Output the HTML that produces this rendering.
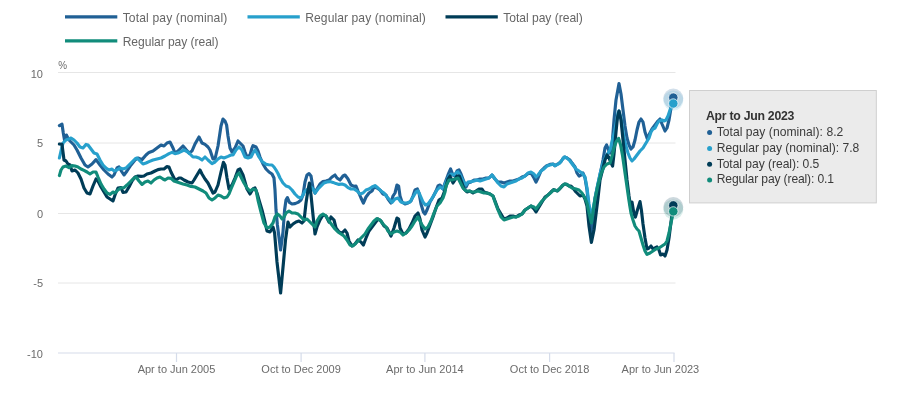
<!DOCTYPE html>
<html lang="en"><head><meta charset="utf-8"><title>Average weekly earnings annual growth rates</title>
<style>html,body{margin:0;padding:0;background:#fff;}body{width:900px;height:405px;overflow:hidden;}svg{display:block;}text{font-family:"Liberation Sans", Arial, sans-serif;}.ax{font-size:11px;fill:#6b6b6b;}.lg{font-size:12.1px;fill:#666666;}.tt{font-size:12.1px;fill:#3a3a3a;}.tth{font-size:12.3px;font-weight:bold;fill:#333;}.ln{fill:none;stroke-width:3.15;stroke-linejoin:round;stroke-linecap:round;}</style></head><body>
<svg width="900" height="405" viewBox="0 0 900 405">
<defs><filter id="idf" x="0" y="0" width="900" height="405" filterUnits="userSpaceOnUse" color-interpolation-filters="sRGB"><feGaussianBlur stdDeviation="0.38"/></filter></defs>
<rect width="900" height="405" fill="#ffffff"/>
<g filter="url(#idf)">
<line x1="58" x2="675.5" y1="72.5" y2="72.5" stroke="#e6e6e6" stroke-width="1"/>
<line x1="58" x2="675.5" y1="143" y2="143" stroke="#e6e6e6" stroke-width="1"/>
<line x1="58" x2="675.5" y1="213.5" y2="213.5" stroke="#e6e6e6" stroke-width="1"/>
<line x1="58" x2="675.5" y1="283" y2="283" stroke="#e6e6e6" stroke-width="1"/>
<line x1="58" x2="674.6" y1="353" y2="353" stroke="#d5dcea" stroke-width="1.1"/>
<line x1="176.5" x2="176.5" y1="353" y2="362" stroke="#d5dcea" stroke-width="1.2"/>
<text class="ax" x="176.5" y="372.6" text-anchor="middle">Apr to Jun 2005</text>
<line x1="301.1" x2="301.1" y1="353" y2="362" stroke="#d5dcea" stroke-width="1.2"/>
<text class="ax" x="301.1" y="372.6" text-anchor="middle">Oct to Dec 2009</text>
<line x1="424.9" x2="424.9" y1="353" y2="362" stroke="#d5dcea" stroke-width="1.2"/>
<text class="ax" x="424.9" y="372.6" text-anchor="middle">Apr to Jun 2014</text>
<line x1="549.6" x2="549.6" y1="353" y2="362" stroke="#d5dcea" stroke-width="1.2"/>
<text class="ax" x="549.6" y="372.6" text-anchor="middle">Oct to Dec 2018</text>
<line x1="674" x2="674" y1="353" y2="362" stroke="#d5dcea" stroke-width="1.2"/>
<text class="ax" x="660.4" y="372.6" text-anchor="middle">Apr to Jun 2023</text>
<text class="ax" x="43" y="77.8" text-anchor="end">10</text>
<text class="ax" x="43" y="147.1" text-anchor="end">5</text>
<text class="ax" x="43" y="217.9" text-anchor="end">0</text>
<text class="ax" x="43" y="287.4" text-anchor="end">-5</text>
<text class="ax" x="43" y="357.7" text-anchor="end">-10</text>
<text class="ax" x="58.2" y="69.4" textLength="8.8" lengthAdjust="spacingAndGlyphs">%</text>
<line x1="65" x2="117.3" y1="16.8" y2="16.8" stroke="#206095" stroke-width="3.2" stroke-linecap="butt"/>
<text class="lg" x="122.7" y="21.9" textLength="104.6" lengthAdjust="spacing">Total pay (nominal)</text>
<line x1="247.5" x2="299.8" y1="16.8" y2="16.8" stroke="#27a0cc" stroke-width="3.2" stroke-linecap="butt"/>
<text class="lg" x="305.2" y="21.9" textLength="120.6" lengthAdjust="spacing">Regular pay (nominal)</text>
<line x1="445.5" x2="497.8" y1="16.8" y2="16.8" stroke="#003c57" stroke-width="3.2" stroke-linecap="butt"/>
<text class="lg" x="503.2" y="21.9" textLength="79.6" lengthAdjust="spacing">Total pay (real)</text>
<line x1="65" x2="117.3" y1="40.8" y2="40.8" stroke="#118c7b" stroke-width="3.2" stroke-linecap="butt"/>
<text class="lg" x="122.7" y="45.9" textLength="95.8" lengthAdjust="spacing">Regular pay (real)</text>
<polyline class="ln" stroke="#206095" points="59.4,125.6 62.0,124.2 63.3,133.0 64.6,140.6 66.4,135.0 68.2,138.6 70.0,141.0 74.0,145.0 77.0,150.0 81.0,158.0 85.0,165.0 88.0,167.0 92.0,164.0 96.0,159.6 100.0,165.0 104.0,170.0 108.0,174.0 112.0,177.0 114.0,175.0 117.0,168.0 119.0,167.0 122.0,172.0 124.0,175.0 127.0,171.0 131.0,165.0 135.0,160.0 138.0,158.0 142.0,159.6 146.0,155.0 149.0,152.4 153.0,151.0 157.0,148.0 161.0,145.0 164.0,146.0 167.0,143.0 170.0,142.0 173.0,148.0 175.0,153.0 178.0,151.0 181.0,148.0 183.0,146.0 186.0,149.6 189.0,153.0 192.0,151.0 195.0,144.0 199.0,137.0 202.0,143.0 205.0,144.4 208.0,147.0 210.0,150.0 213.0,159.0 215.0,159.0 218.0,146.0 221.0,126.0 223.0,119.0 225.0,121.0 226.6,125.0 228.0,136.0 230.0,148.0 232.0,152.0 235.0,148.0 238.0,141.0 240.0,143.0 243.0,146.0 245.0,152.0 247.0,157.0 250.0,155.0 252.0,148.0 253.0,145.6 256.0,147.0 258.0,151.0 260.0,157.0 263.0,164.0 266.0,169.0 269.0,172.0 272.0,174.0 274.0,178.0 275.0,190.0 276.0,210.0 277.4,225.0 280.6,250.0 283.0,232.0 284.6,210.0 286.0,200.0 287.4,197.6 289.4,202.4 292.0,204.0 295.0,203.6 298.0,202.4 301.0,200.0 303.0,195.0 305.0,182.0 307.0,175.0 309.0,173.6 311.0,176.0 313.0,188.0 315.0,193.0 317.0,189.0 320.0,184.0 323.0,181.6 326.0,181.0 329.0,180.0 332.0,177.0 335.0,175.0 337.0,178.0 340.0,180.0 343.0,176.0 345.0,175.0 348.0,179.0 351.0,185.0 354.0,186.4 356.0,186.0 358.0,191.0 361.0,198.0 363.4,203.0 366.0,197.0 369.0,193.0 372.0,191.0 374.0,187.0 377.0,188.0 380.0,190.0 383.0,194.0 386.0,195.0 388.0,199.0 391.0,203.0 393.0,196.0 395.0,193.0 397.0,185.0 398.6,186.0 400.0,196.0 402.0,202.0 405.0,204.0 408.0,203.0 411.0,201.0 413.0,196.0 415.0,190.0 417.4,189.0 419.0,193.0 421.0,204.0 423.4,212.0 425.0,214.0 427.0,210.0 430.0,202.0 433.0,197.0 436.0,191.0 438.0,186.0 440.0,185.0 443.0,189.0 445.0,183.0 448.0,175.0 450.6,169.0 453.0,175.0 455.0,176.0 457.0,171.0 459.0,170.0 461.0,174.0 464.0,182.0 466.0,187.0 468.0,183.0 471.0,182.0 474.0,180.0 477.0,180.0 480.0,179.0 483.0,179.0 486.0,178.0 489.0,178.0 492.0,175.0 495.0,179.0 498.0,182.0 501.0,182.0 504.0,183.0 507.0,182.0 510.0,181.0 513.0,181.0 516.0,180.0 519.0,179.0 522.0,177.0 525.0,176.0 528.0,173.6 531.0,173.0 534.0,178.0 536.0,182.0 538.0,178.0 541.0,171.0 544.0,168.0 547.0,165.6 550.0,164.4 553.0,164.0 555.0,165.8 557.0,164.4 559.0,163.4 561.0,161.5 563.0,158.5 564.6,157.0 567.0,158.0 570.0,160.0 572.0,163.0 575.0,167.0 577.0,173.0 579.0,176.0 581.0,175.0 583.0,173.0 585.0,178.0 587.0,190.0 589.0,210.0 591.4,232.0 593.0,218.0 595.0,198.0 598.0,184.0 601.0,170.0 603.0,160.0 605.0,148.0 606.6,145.0 608.6,150.0 610.0,153.0 612.0,146.0 614.0,120.0 616.0,100.0 619.0,83.6 621.0,94.0 623.0,110.0 625.0,126.0 627.0,138.0 629.0,145.0 631.0,149.0 633.0,147.0 635.0,140.0 637.0,130.0 639.0,122.0 641.0,119.0 643.0,122.0 645.0,132.0 647.4,139.0 649.4,134.0 652.0,129.0 655.0,125.0 658.0,121.0 660.0,119.0 662.0,124.0 665.0,131.0 667.0,128.0 669.0,120.0 671.0,108.0 673.4,97.6"/>
<polyline class="ln" stroke="#27a0cc" points="59.4,158.0 61.0,151.0 63.0,143.0 66.0,140.0 69.0,139.0 71.0,138.0 74.0,140.0 77.0,143.0 80.0,147.0 83.0,148.0 86.0,144.4 88.0,145.0 91.0,149.0 94.0,153.0 97.0,154.0 100.0,160.0 103.0,165.0 106.0,168.0 109.0,170.0 112.0,169.0 114.0,171.0 117.0,170.0 120.0,168.0 123.0,169.0 126.0,168.0 129.0,165.0 132.0,162.0 135.0,159.0 137.0,158.0 140.0,161.0 143.0,164.0 146.0,163.0 149.0,161.6 153.0,160.0 157.0,159.0 161.0,158.0 165.0,156.0 169.0,153.6 172.0,152.4 175.0,153.6 178.0,153.0 181.0,151.6 184.0,150.0 187.0,151.6 190.0,154.0 193.0,157.0 196.0,157.0 199.0,158.0 202.0,160.0 205.0,157.0 208.0,160.0 212.0,163.6 215.0,162.0 218.0,159.0 221.0,157.0 224.0,158.0 228.0,156.4 231.0,155.0 233.0,155.0 236.0,150.0 239.0,147.0 242.0,150.0 245.0,157.0 248.0,158.0 251.0,157.0 253.0,153.0 255.0,150.0 257.0,153.0 259.0,157.0 262.0,161.5 264.3,163.0 266.0,164.3 268.5,164.8 272.0,165.0 274.0,167.0 276.0,170.0 278.0,173.5 280.0,178.0 283.0,183.0 286.0,186.0 289.0,187.0 292.0,190.0 295.0,194.0 298.0,197.0 301.0,198.0 303.0,195.0 305.0,191.0 308.0,189.0 311.0,187.0 313.0,189.0 315.0,193.0 318.0,189.0 321.0,186.0 324.0,183.0 327.0,182.0 330.0,181.6 333.0,182.4 336.0,183.6 339.0,184.4 342.0,184.0 345.0,185.0 348.0,187.6 351.0,189.0 354.0,189.0 357.0,191.0 360.0,194.0 363.0,193.0 366.0,190.0 369.0,189.0 372.0,187.0 375.0,185.6 378.0,188.0 381.0,191.0 384.0,193.0 387.0,197.0 390.0,200.0 392.0,202.4 395.0,199.0 398.0,198.0 401.0,202.0 404.0,203.0 407.0,203.0 410.0,202.0 413.0,197.0 416.0,192.0 418.0,191.0 420.0,195.0 423.0,202.0 425.4,205.0 428.0,204.0 431.0,200.0 434.0,195.0 437.0,190.0 440.0,187.0 443.0,189.0 446.0,182.0 449.0,176.0 451.0,174.0 454.0,175.0 456.0,173.0 458.0,172.0 460.0,175.0 463.0,181.0 466.0,185.0 468.0,182.0 471.0,181.6 474.0,181.0 477.0,180.0 480.0,181.0 483.0,180.0 486.0,179.0 489.0,178.0 492.0,175.0 495.0,179.0 498.0,183.0 501.0,186.0 504.0,187.0 507.0,184.0 510.0,183.0 513.0,182.0 516.0,181.0 519.0,179.0 522.0,178.0 525.0,176.0 528.0,173.0 531.0,172.0 534.0,174.0 536.0,177.0 538.0,175.0 541.0,171.0 544.0,169.0 547.0,166.0 550.0,165.0 553.0,164.2 555.0,165.6 557.0,164.6 559.0,163.6 561.0,161.5 563.0,158.5 564.6,157.0 567.0,158.0 570.0,161.0 573.0,165.0 576.0,169.0 579.0,171.0 582.0,173.0 585.0,177.0 587.0,188.0 589.0,204.0 591.4,218.0 594.0,204.0 597.0,188.0 600.0,174.0 603.0,163.0 606.0,156.0 608.0,153.0 610.0,150.0 612.0,142.0 614.0,134.0 616.0,124.0 618.0,113.0 619.0,111.0 621.0,118.0 624.0,138.0 626.0,146.0 628.0,153.0 630.0,158.0 632.0,161.0 634.0,159.0 637.0,155.0 640.0,151.0 643.0,148.0 646.0,143.0 649.0,138.0 651.0,132.0 653.0,129.0 655.0,128.0 657.0,124.0 659.0,121.0 662.0,120.0 664.0,121.0 666.0,120.0 668.0,116.0 670.0,110.0 673.4,103.5"/>
<polyline class="ln" stroke="#003c57" points="59.4,144.0 62.0,144.4 64.0,160.0 66.0,161.0 68.0,164.0 70.0,165.0 72.0,171.0 75.0,170.0 78.0,173.0 81.0,179.0 84.0,188.0 87.0,193.0 90.0,194.0 93.0,186.0 96.0,179.0 98.0,181.0 101.0,187.0 104.0,192.0 107.0,197.0 110.0,199.0 113.0,201.0 115.0,195.0 118.0,188.0 121.0,187.6 123.0,192.4 126.0,192.0 129.0,187.0 132.0,181.0 135.0,177.0 138.0,176.0 141.0,176.4 144.0,176.0 147.0,174.0 151.0,173.0 155.0,171.0 158.0,169.6 161.0,169.0 164.0,169.0 167.0,166.6 169.0,167.0 171.0,172.0 174.0,178.0 176.0,180.0 179.0,178.0 181.0,178.0 184.0,180.0 188.0,182.0 192.0,183.0 194.0,180.0 197.0,175.0 200.0,170.0 202.0,174.0 205.0,179.0 208.0,183.0 211.0,189.0 213.0,193.0 215.0,192.0 218.0,185.0 221.0,172.0 223.4,162.4 225.0,165.0 227.0,178.0 229.0,189.0 232.0,185.0 235.0,178.0 238.0,170.0 240.0,169.0 243.0,175.0 245.0,182.0 247.0,189.0 250.0,194.0 253.0,189.0 255.0,188.0 257.0,193.0 259.0,200.0 262.0,210.0 265.0,222.0 267.0,231.0 270.0,232.0 273.0,227.0 274.6,233.0 277.0,262.0 280.6,293.0 283.5,262.0 285.5,240.0 287.0,229.0 288.0,222.0 290.0,227.0 293.0,224.0 296.0,222.0 299.0,221.0 302.0,223.0 304.0,221.0 306.0,203.0 308.0,190.0 309.4,183.0 311.0,195.0 313.0,215.0 315.0,234.0 317.0,227.0 320.0,220.0 323.0,215.0 326.0,216.0 329.0,222.0 331.0,217.0 334.0,220.0 336.0,228.0 339.0,232.0 342.0,233.0 345.0,230.0 347.0,233.0 349.0,241.0 352.0,246.0 355.0,244.0 358.0,240.0 361.0,242.0 363.4,245.0 366.0,238.0 369.0,231.0 372.0,227.0 375.0,223.0 378.0,219.0 381.0,221.0 384.0,226.0 387.0,228.0 389.0,232.0 391.0,236.0 394.0,228.0 397.0,218.0 398.6,219.0 400.0,228.0 403.0,234.0 406.0,233.0 409.0,229.0 412.0,223.0 415.0,216.0 418.0,213.0 420.0,219.0 422.0,230.0 425.0,237.0 427.0,233.0 430.0,225.0 433.0,217.0 436.0,208.0 439.0,200.0 442.0,198.0 445.0,190.0 448.0,179.0 450.0,176.0 453.0,183.0 455.0,180.0 457.0,176.0 459.4,176.0 462.0,183.0 464.0,189.0 467.0,192.0 470.0,191.0 473.0,193.0 476.0,191.0 479.0,189.0 482.0,189.0 484.0,192.0 487.0,193.0 490.0,194.0 493.0,196.0 495.0,201.0 498.0,209.0 501.0,214.0 504.0,219.0 507.0,218.0 510.0,216.0 513.0,216.0 516.0,217.0 519.0,215.0 522.0,214.0 525.0,210.0 528.0,208.0 531.0,206.0 534.0,209.0 536.0,212.0 539.0,207.0 542.0,202.0 545.0,197.0 548.0,195.0 551.0,192.0 553.6,189.6 557.3,191.0 560.0,188.5 562.5,185.6 564.7,184.0 567.0,184.6 569.0,186.0 571.0,186.0 573.0,188.0 576.0,192.0 578.0,194.0 580.0,196.0 583.0,195.0 585.0,199.0 587.0,206.0 589.0,226.0 591.4,242.4 594.0,230.0 596.0,214.0 598.0,198.0 600.0,180.0 603.0,168.0 605.0,160.0 607.0,155.0 608.6,157.0 610.6,162.0 612.6,166.0 614.0,154.0 616.0,132.0 617.4,118.0 619.0,111.0 621.0,120.0 623.0,140.0 625.0,160.0 627.0,180.0 629.0,196.0 631.0,209.0 632.0,202.0 634.0,214.0 635.4,217.0 637.4,210.0 640.0,201.6 641.4,210.0 643.0,224.0 645.0,238.0 647.0,249.0 649.0,248.0 651.0,246.0 653.0,249.0 655.0,248.0 657.0,247.0 659.0,250.0 660.6,255.0 663.0,254.0 665.0,256.0 667.0,250.0 669.0,238.0 671.0,222.0 673.4,205.4"/>
<polyline class="ln" stroke="#118c7b" points="59.4,175.6 61.0,170.0 63.0,167.0 66.0,166.0 69.0,167.6 72.0,165.6 75.0,166.0 78.0,167.0 81.0,169.0 84.0,170.4 87.0,172.0 90.0,174.0 93.0,172.0 96.0,172.0 98.0,177.0 101.0,184.0 104.0,189.0 107.0,193.0 110.0,194.4 113.0,192.0 115.0,193.0 118.0,190.0 121.0,188.0 124.0,187.6 127.0,185.0 130.0,182.0 133.0,179.0 136.0,177.0 139.0,181.0 142.0,184.4 145.0,182.0 148.0,181.0 151.0,183.0 154.0,180.0 157.0,178.0 160.0,177.0 163.0,179.0 165.0,180.0 168.0,178.0 171.0,178.4 174.0,181.0 177.0,182.0 180.0,183.0 183.0,184.0 187.0,185.0 191.0,186.4 195.0,187.0 199.0,189.0 203.0,191.0 206.0,193.0 209.0,198.0 212.0,200.0 215.0,198.0 218.0,195.0 221.0,196.0 224.0,198.0 227.0,197.0 229.0,194.0 231.0,189.0 234.0,182.0 237.0,175.0 239.0,173.0 241.0,177.0 244.0,183.0 247.0,188.0 250.0,191.0 253.0,189.0 256.0,190.0 258.0,200.0 261.0,212.0 264.0,223.0 267.0,228.0 270.0,227.0 273.0,223.0 275.0,217.0 277.4,214.0 280.0,216.0 282.0,219.0 284.0,217.0 286.0,213.0 289.0,211.0 292.0,213.0 295.0,213.0 298.0,214.0 301.0,217.0 304.0,220.0 307.0,219.0 310.0,222.0 313.0,225.0 315.0,227.0 317.0,221.0 320.0,216.0 323.0,214.0 326.0,216.0 329.0,221.0 332.0,225.0 335.0,229.0 338.0,232.0 341.0,234.0 344.0,236.0 347.0,240.0 350.0,245.0 353.0,246.0 356.0,243.0 359.0,240.0 362.0,237.0 365.0,234.0 368.0,229.0 371.0,225.0 374.0,221.0 377.0,218.6 380.0,220.0 383.0,224.0 386.0,227.0 388.0,231.0 391.0,234.0 394.0,232.0 397.0,231.0 400.0,232.0 403.0,235.0 406.0,233.0 409.0,230.0 412.0,226.0 415.0,221.0 418.0,217.0 420.0,221.0 422.0,225.0 425.0,229.0 428.0,227.0 431.0,221.0 434.0,213.0 437.0,206.0 440.0,203.0 443.0,198.0 445.0,192.0 446.0,186.0 449.0,180.0 452.0,180.0 455.0,179.0 458.0,178.0 460.0,182.0 463.0,188.0 466.0,191.0 469.0,191.0 472.0,192.0 475.0,192.0 478.0,191.0 481.0,192.0 484.0,193.0 487.0,193.0 490.0,194.0 493.0,196.0 495.0,202.0 498.0,210.0 501.0,217.0 504.0,220.0 507.0,219.0 510.0,218.0 513.0,217.0 516.0,217.0 519.0,216.0 522.0,214.0 525.0,210.0 528.0,208.0 531.0,206.0 534.0,207.0 536.0,209.0 539.0,205.0 542.0,201.0 545.0,198.0 548.0,195.0 551.0,192.5 553.6,189.8 557.3,190.8 560.0,188.3 562.5,185.6 564.7,184.0 567.0,184.4 569.0,186.0 572.0,188.0 576.0,189.0 579.0,190.0 582.0,193.0 585.0,198.0 587.0,203.0 589.0,213.0 591.4,223.0 593.0,212.0 595.0,199.0 598.0,185.0 601.0,174.0 604.0,167.0 607.0,164.0 610.0,163.0 612.0,156.0 614.0,148.0 616.0,142.0 618.6,138.4 620.6,145.0 622.6,156.0 624.6,170.0 626.6,184.0 628.6,198.0 630.0,207.0 631.0,213.0 633.0,220.0 635.0,226.0 637.0,229.0 639.0,231.0 641.0,238.0 643.0,245.0 645.0,251.0 647.0,254.4 650.0,253.0 653.0,251.0 656.0,249.0 659.0,248.0 662.0,246.0 665.0,244.0 667.0,241.0 669.0,233.0 671.0,223.0 673.4,211.4"/>
<circle cx="673.3" cy="98.6" r="10" fill="#206095" fill-opacity="0.2"/>
<circle cx="673.3" cy="100.6" r="10" fill="#27a0cc" fill-opacity="0.14"/>
<circle cx="673.3" cy="97.6" r="4.7" fill="#206095" stroke="#ffffff" stroke-opacity="0.7" stroke-width="1"/>
<circle cx="673.3" cy="103.5" r="4.7" fill="#27a0cc" stroke="#ffffff" stroke-opacity="0.7" stroke-width="1"/>
<circle cx="673.3" cy="207" r="10" fill="#003c57" fill-opacity="0.2"/>
<circle cx="673.3" cy="209.4" r="10" fill="#118c7b" fill-opacity="0.16"/>
<circle cx="673.3" cy="205.4" r="4.7" fill="#003c57" stroke="#ffffff" stroke-opacity="0.7" stroke-width="1"/>
<circle cx="673.3" cy="211.4" r="4.7" fill="#118c7b" stroke="#ffffff" stroke-opacity="0.7" stroke-width="1"/>
<rect x="689.5" y="90.5" width="186.8" height="112.4" fill="#ebebeb" stroke="#cfcfcf" stroke-width="1"/>
<text class="tth" x="706" y="119.5" textLength="88.4" lengthAdjust="spacing">Apr to Jun 2023</text>
<circle cx="709.6" cy="132.6" r="2.5" fill="#206095"/>
<text class="tt" x="716.7" y="135.9" textLength="126.6" lengthAdjust="spacing">Total pay (nominal): 8.2</text>
<circle cx="709.6" cy="148.4" r="2.5" fill="#27a0cc"/>
<text class="tt" x="716.7" y="151.7" textLength="142.6" lengthAdjust="spacing">Regular pay (nominal): 7.8</text>
<circle cx="709.6" cy="164.2" r="2.5" fill="#003c57"/>
<text class="tt" x="716.7" y="167.5" textLength="102.6" lengthAdjust="spacing">Total pay (real): 0.5</text>
<circle cx="709.6" cy="180.0" r="2.5" fill="#118c7b"/>
<text class="tt" x="716.7" y="183.3" textLength="117.3" lengthAdjust="spacing">Regular pay (real): 0.1</text>
</g></svg></body></html>
